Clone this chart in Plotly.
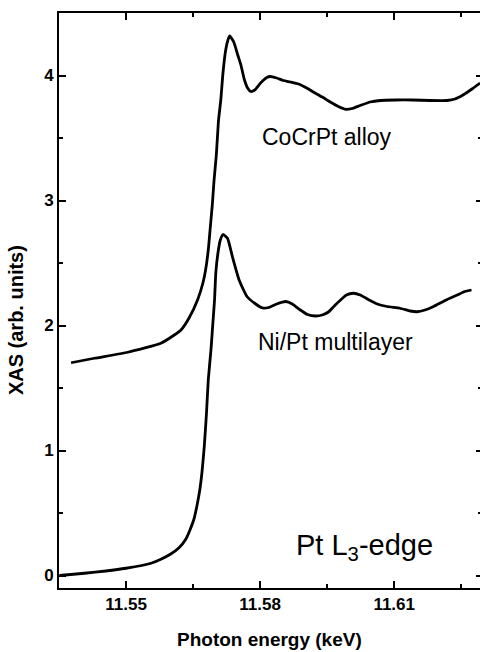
import plotly.graph_objects as go

# Photon energy (keV) and XAS (arb. units)
cocrpt_energy = [11.5377, 11.5429, 11.5504, 11.5578, 11.5608, 11.5623, 11.5641, 11.5660,
                 11.5672, 11.5678, 11.5684, 11.5688, 11.5693, 11.5697, 11.5702, 11.5707,
                 11.5712, 11.5717, 11.5723, 11.5728, 11.5732, 11.5741, 11.5750, 11.5757,
                 11.5765, 11.5772, 11.5779, 11.5788, 11.5801, 11.5815, 11.5823, 11.5837,
                 11.5852, 11.5868, 11.5886, 11.5904, 11.5919, 11.5939, 11.5957, 11.5975,
                 11.5991, 11.6006, 11.6024, 11.6046, 11.6069, 11.6102, 11.6142, 11.6180,
                 11.6218, 11.6236, 11.6254, 11.6274, 11.6292]
cocrpt_xas = [1.702, 1.738, 1.786, 1.858, 1.924, 1.964, 2.060, 2.204,
              2.340, 2.444, 2.604, 2.764, 2.964, 3.164, 3.364, 3.644,
              3.804, 4.024, 4.204, 4.284, 4.316, 4.268, 4.164, 4.084,
              3.964, 3.900, 3.872, 3.884, 3.940, 3.984, 3.992, 3.980,
              3.960, 3.948, 3.932, 3.900, 3.868, 3.828, 3.788, 3.752,
              3.730, 3.736, 3.760, 3.788, 3.800, 3.804, 3.804, 3.800,
              3.800, 3.812, 3.844, 3.892, 3.940]

nipt_energy = [11.5351, 11.5407, 11.5455, 11.5500, 11.5556, 11.5578, 11.5600, 11.5618,
               11.5634, 11.5643, 11.5652, 11.5659, 11.5665, 11.5670, 11.5675, 11.5680,
               11.5684, 11.5690, 11.5694, 11.5698, 11.5701, 11.5706, 11.5711, 11.5717,
               11.5727, 11.5738, 11.5753, 11.5771, 11.5790, 11.5806, 11.5819, 11.5837,
               11.5857, 11.5872, 11.5890, 11.5906, 11.5924, 11.5939, 11.5953, 11.5966,
               11.5980, 11.5993, 11.6009, 11.6024, 11.6042, 11.6062, 11.6084, 11.6113,
               11.6136, 11.6151, 11.6169, 11.6187, 11.6214, 11.6241, 11.6258, 11.6273]
nipt_xas = [0.000, 0.018, 0.036, 0.058, 0.098, 0.130, 0.172, 0.220,
            0.292, 0.364, 0.452, 0.564, 0.684, 0.828, 1.030, 1.298,
            1.564, 1.804, 2.004, 2.204, 2.428, 2.588, 2.684, 2.728,
            2.698, 2.550, 2.364, 2.230, 2.172, 2.140, 2.144, 2.172,
            2.192, 2.172, 2.124, 2.088, 2.076, 2.084, 2.108, 2.156,
            2.204, 2.244, 2.258, 2.244, 2.208, 2.172, 2.152, 2.138,
            2.116, 2.110, 2.124, 2.150, 2.200, 2.244, 2.272, 2.284]

x_tickvals = [11.55, 11.58, 11.61]
x_ticktext = ["11.55", "11.58", "11.61"]
y_tickvals = [0, 1, 2, 3, 4]
y_ticktext = ["0", "1", "2", "3", "4"]

FONT = "Liberation Sans, Arial, sans-serif"
X_RANGE = [11.535, 11.6292]
Y_RANGE = [-0.1, 4.5]

fig = go.Figure()
line_style = dict(color="black", width=2.8, shape="spline", smoothing=0.5)
fig.add_trace(go.Scatter(x=cocrpt_energy, y=cocrpt_xas, mode="lines",
                         line=line_style, name="CoCrPt alloy", showlegend=False))
fig.add_trace(go.Scatter(x=nipt_energy, y=nipt_xas, mode="lines",
                         line=line_style, name="Ni/Pt multilayer", showlegend=False))
# empty trace to realise the right-hand tick axis
fig.add_trace(go.Scatter(x=[None], y=[None], yaxis="y2", showlegend=False,
                         hoverinfo="skip", mode="lines"))

tickfont = dict(family=FONT, size=17, color="black", weight="bold")

fig.update_layout(
    width=480, height=652,
    margin=dict(l=59, r=0, t=13, b=64),
    paper_bgcolor="white", plot_bgcolor="white",
    showlegend=False,
    xaxis=dict(range=X_RANGE, tickvals=x_tickvals, ticktext=x_ticktext,
               ticks="inside", ticklen=7, tickwidth=1.5, tickcolor="black",
               showline=True, linewidth=2, linecolor="black", mirror="ticks",
               showgrid=False, zeroline=False, tickfont=tickfont,
               minor=dict(dtick=0.015, tick0=11.535, ticks="inside", ticklen=4,
                          tickwidth=1.5, tickcolor="black", showgrid=False)),
    yaxis=dict(range=Y_RANGE, tickvals=y_tickvals, ticktext=y_ticktext,
               ticks="inside", ticklen=7, tickwidth=1.5, tickcolor="black",
               showline=True, linewidth=2, linecolor="black", mirror=False,
               showgrid=False, zeroline=False, tickfont=tickfont,
               minor=dict(dtick=0.5, tick0=0, ticks="inside", ticklen=4,
                          tickwidth=1.5, tickcolor="black", showgrid=False)),
    yaxis2=dict(range=Y_RANGE, overlaying="y", side="right", tickvals=y_tickvals,
                showticklabels=False, ticks="inside", ticklen=4, tickwidth=1.5,
                tickcolor="black", showline=False, showgrid=False, zeroline=False,
                minor=dict(dtick=0.5, tick0=0, ticks="inside", ticklen=2,
                           tickwidth=1.5, tickcolor="black", showgrid=False)),
)

ann_font = dict(family=FONT, size=23, color="black")
fig.add_annotation(x=11.5949, y=3.508, xref="x", yref="y", text="CoCrPt alloy",
                   showarrow=False, font=ann_font, xanchor="center", yanchor="middle")
fig.add_annotation(x=11.5968, y=1.870, xref="x", yref="y", text="Ni/Pt multilayer",
                   showarrow=False, font=ann_font, xanchor="center", yanchor="middle")
fig.add_annotation(x=11.6033, y=0.228, xref="x", yref="y", text="Pt L<sub>3</sub>-edge",
                   showarrow=False, font=dict(family=FONT, size=29, color="black"),
                   xanchor="center", yanchor="middle")

title_font = dict(family=FONT, size=19, color="black", weight="bold")
fig.add_annotation(x=0.5, y=-0.0887, xref="paper", yref="paper",
                   text="Photon energy (keV)", showarrow=False, font=title_font,
                   xanchor="center", yanchor="middle")
fig.add_annotation(x=-0.102, y=0.466, xref="paper", yref="paper",
                   text="XAS (arb. units)", showarrow=False,
                   font=dict(family=FONT, size=20, color="black", weight="bold"),
                   textangle=-90, xanchor="center", yanchor="middle")

fig.write_html("out.html", config={"displayModeBar": False},
               post_script="document.body.style.margin='0px';document.body.style.overflow='hidden';")
